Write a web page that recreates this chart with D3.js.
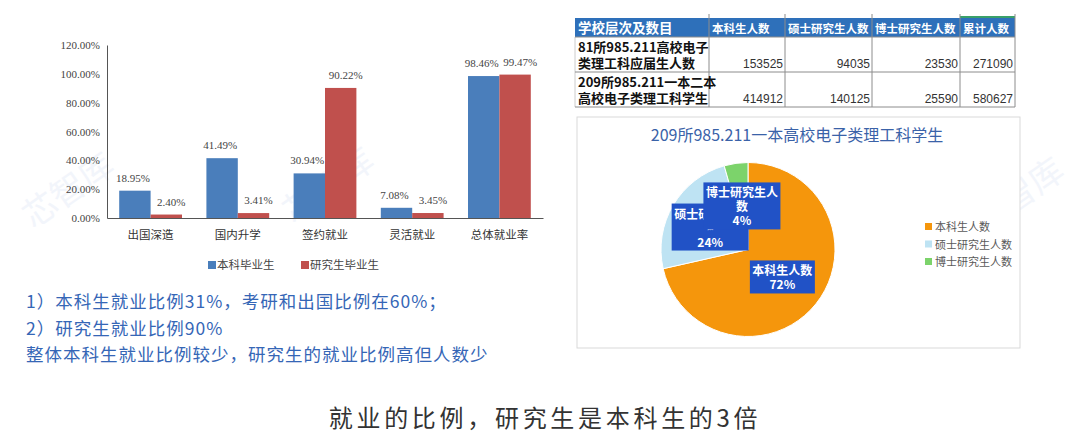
<!DOCTYPE html>
<html>
<head>
<meta charset="utf-8">
<script src="https://cdn.jsdelivr.net/npm/d3@7"></script>
<style>
  body { margin: 0; background: #fff; }
  svg { display: block; }
</style>
</head>
<body>
<svg id="chart"></svg>
<script>
const width = 1080, height = 446;

// bar chart data
const categories = ['出国深造', '国内升学', '签约就业', '灵活就业', '总体就业率'];
const seriesNames = ['本科毕业生', '研究生毕业生'];
const undergrad = [0.1895, 0.4149, 0.3094, 0.0708, 0.9846];
const graduate = [0.0240, 0.0341, 0.9022, 0.0345, 0.9947];
const yTicks = [0, 0.2, 0.4, 0.6, 0.8, 1.0, 1.2];

// table data
const tableHeaders = ['学校层次及数目', '本科生人数', '硕士研究生人数', '博士研究生人数', '累计人数'];
const tableRowLabels = [['81所985.211高校电子', '类理工科应届生人数'], ['209所985.211一本二本', '高校电子类理工科学生']];
const tableRow1 = [153525, 94035, 23530, 271090];
const tableRow2 = [414912, 140125, 25590, 580627];

// pie data (second table row)
const pieTitle = '209所985.211一本高校电子类理工科学生';
const pieNames = ['本科生人数', '硕士研究生人数', '博士研究生人数'];
const pieValues = tableRow2.slice(0, 3);
const pieLabels = ['72%', '24%', '4%'];

// text
const notes = ['1）本科生就业比例31%，考研和出国比例在60%；', '2）研究生就业比例90%', '整体本科生就业比例较少，研究生的就业比例高但人数少'];
const headline = '就业的比例，研究生是本科生的3倍';

const cjk = '"Noto Sans CJK SC", "Noto Sans", sans-serif';
const serif = '"Liberation Serif", "DejaVu Serif", serif';

const svg = d3.select('#chart')
  .attr('width', width)
  .attr('height', height);

svg.append('rect').attr('width', width).attr('height', height).attr('fill', '#fff');

// faint watermarks
const marks = [[75, 200], [335, 195], [705, 205], [1025, 205]];
svg.selectAll('text.wm')
  .data(marks)
  .enter()
  .append('text')
  .attr('class', 'wm')
  .attr('transform', d => `translate(${d[0]},${d[1]}) rotate(-35)`)
  .attr('text-anchor', 'middle')
  .attr('font-family', cjk)
  .attr('font-size', 34)
  .attr('fill', '#dbe4f5')
  .attr('opacity', 0.35)
  .text('芯智库');

// ---------- bar chart ----------
const bar = { left: 107, right: 543, top: 45, bottom: 218 };

const x0 = d3.scaleBand()
  .domain(categories)
  .range([bar.left, bar.right])
  .paddingInner(0.28)
  .paddingOuter(0.14);

const x1 = d3.scaleBand()
  .domain(seriesNames)
  .range([0, x0.bandwidth()]);

const y = d3.scaleLinear()
  .domain([0, 1.2])
  .range([bar.bottom, bar.top]);

const colors = d3.scaleOrdinal().domain(seriesNames).range(['#4A7EBB', '#C0504D']);

const yAxis = svg.append('g')
  .attr('transform', `translate(${bar.left},0)`)
  .call(d3.axisLeft(y).tickValues(yTicks).tickFormat(d3.format('.2%')).tickSize(0).tickPadding(7));
yAxis.select('.domain').attr('stroke', '#555');
yAxis.selectAll('text')
  .attr('font-family', serif)
  .attr('font-size', 11)
  .attr('fill', '#444');

const xAxis = svg.append('g')
  .attr('transform', `translate(0,${bar.bottom})`)
  .call(d3.axisBottom(x0).tickSize(0).tickPadding(13));
xAxis.select('.domain').attr('stroke', '#555');
xAxis.selectAll('text')
  .attr('font-family', cjk)
  .attr('font-size', 11.5)
  .attr('fill', '#333');

const rows = categories.map((c, i) => ({ category: c, values: [undergrad[i], graduate[i]] }));

const groups = svg.selectAll('g.group')
  .data(rows)
  .enter()
  .append('g')
  .attr('class', 'group')
  .attr('transform', d => `translate(${x0(d.category)},0)`);

groups.selectAll('rect')
  .data(d => d.values.map((v, j) => ({ name: seriesNames[j], value: v })))
  .enter()
  .append('rect')
  .attr('x', d => x1(d.name))
  .attr('y', d => y(d.value))
  .attr('width', x1.bandwidth())
  .attr('height', d => bar.bottom - y(d.value))
  .attr('fill', d => colors(d.name));

groups.selectAll('text.val')
  .data(d => d.values.map((v, j) => ({ name: seriesNames[j], value: v, j })))
  .enter()
  .append('text')
  .attr('class', 'val')
  .attr('x', d => x1(d.name) + x1.bandwidth() / 2 + (d.j === 0 ? -2 : 5))
  .attr('y', d => y(d.value) - 9)
  .attr('text-anchor', 'middle')
  .attr('font-family', serif)
  .attr('font-size', 11)
  .attr('fill', '#444')
  .text(d => d3.format('.2%')(d.value));

// bar legend
const barLegend = svg.append('g').attr('transform', 'translate(208,265)');
const legItems = barLegend.selectAll('g')
  .data(seriesNames)
  .enter()
  .append('g')
  .attr('transform', (d, i) => `translate(${i * 93},0)`);
legItems.append('rect')
  .attr('x', 0).attr('y', -4).attr('width', 8).attr('height', 8)
  .attr('fill', d => colors(d));
legItems.append('text')
  .attr('x', 9).attr('y', 4)
  .attr('font-family', cjk)
  .attr('font-size', 11.5)
  .attr('fill', '#444')
  .text(d => d);

// ---------- notes ----------
svg.selectAll('text.note')
  .data(notes)
  .enter()
  .append('text')
  .attr('class', 'note')
  .attr('x', 26)
  .attr('y', (d, i) => 308 + i * 26.5)
  .attr('font-family', cjk)
  .attr('font-size', 17.5)
  .attr('letter-spacing', 1)
  .attr('fill', '#3566B6')
  .text(d => d);

svg.append('text')
  .attr('x', 545)
  .attr('y', 427)
  .attr('text-anchor', 'middle')
  .attr('font-family', cjk)
  .attr('font-size', 24)
  .attr('letter-spacing', 3.7)
  .attr('fill', '#333')
  .text(headline);

// ---------- table ----------
const colEdges = [575, 709, 785, 872, 960, 1015];
const rowEdges = [18, 37, 72, 107];
const table = svg.append('g');

table.append('rect')
  .attr('x', colEdges[0]).attr('y', rowEdges[0])
  .attr('width', colEdges[5] - colEdges[0]).attr('height', rowEdges[1] - rowEdges[0])
  .attr('fill', '#2E70BA');
table.append('line')
  .attr('x1', colEdges[4]).attr('x2', colEdges[5]).attr('y1', rowEdges[0] - 1).attr('y2', rowEdges[0] - 1)
  .attr('stroke', '#3aa06a').attr('stroke-width', 2);

table.selectAll('line.v')
  .data(colEdges)
  .enter()
  .append('line')
  .attr('class', 'v')
  .attr('x1', d => d).attr('x2', d => d)
  .attr('y1', (d, i) => (i === 0 ? rowEdges[1] : rowEdges[0] - 4))
  .attr('y2', rowEdges[3])
  .attr('stroke', (d, i) => (i === 0 ? '#ccc' : '#8c8c8c'))
  .attr('stroke-width', 1);

table.selectAll('line.h')
  .data(rowEdges.slice(1))
  .enter()
  .append('line')
  .attr('class', 'h')
  .attr('x1', colEdges[0]).attr('x2', colEdges[5])
  .attr('y1', d => d).attr('y2', d => d)
  .attr('stroke', '#8c8c8c');

table.selectAll('text.hd')
  .data(tableHeaders)
  .enter()
  .append('text')
  .attr('class', 'hd')
  .attr('x', (d, i) => colEdges[i] + 3)
  .attr('y', 33)
  .attr('font-family', cjk)
  .attr('font-weight', 'bold')
  .attr('font-size', (d, i) => (i === 0 ? 13.5 : 11.5))
  .attr('fill', '#fff')
  .text(d => d);

tableRowLabels.forEach((lines, r) => {
  table.selectAll(`text.rl${r}`)
    .data(lines)
    .enter()
    .append('text')
    .attr('x', colEdges[0] + 3)
    .attr('y', (d, i) => rowEdges[r + 1] + 15 + i * 16)
    .attr('font-family', cjk)
    .attr('font-weight', 'bold')
    .attr('font-size', 13)
    .attr('fill', '#111')
    .text(d => d);
});

[tableRow1, tableRow2].forEach((vals, r) => {
  table.selectAll(`text.num${r}`)
    .data(vals)
    .enter()
    .append('text')
    .attr('x', (d, i) => colEdges[i + 2] - 2)
    .attr('y', rowEdges[r + 2] - 4)
    .attr('text-anchor', 'end')
    .attr('font-family', '"Liberation Sans", Arial, sans-serif')
    .attr('font-size', 12)
    .attr('fill', '#333')
    .text(d => d);
});

// ---------- pie ----------
svg.append('rect')
  .attr('x', 577).attr('y', 117).attr('width', 443).attr('height', 231)
  .attr('fill', '#fff').attr('stroke', '#d9d9d9');

svg.append('text')
  .attr('x', 797).attr('y', 141)
  .attr('text-anchor', 'middle')
  .attr('font-family', cjk)
  .attr('font-size', 16)
  .attr('fill', '#3A62A8')
  .text(pieTitle);

const pieColors = d3.scaleOrdinal().domain(pieNames).range(['#F5960C', '#BEE3F3', '#7CD36B']);
const pie = d3.pie().sort(null).value(d => d.value);
const arcs = pie(pieNames.map((n, i) => ({ name: n, value: pieValues[i], label: pieLabels[i] })));
const radius = 87;
const arc = d3.arc().innerRadius(0).outerRadius(radius);
const labelArc = d3.arc().innerRadius(44).outerRadius(44);

const pieG = svg.append('g').attr('transform', 'translate(748,249.5)');
pieG.selectAll('path')
  .data(arcs)
  .enter()
  .append('path')
  .attr('d', arc)
  .attr('fill', d => pieColors(d.data.name))
  .attr('stroke', '#fff')
  .attr('stroke-width', 1);

const lab = pieG.selectAll('g.lab')
  .data(arcs)
  .enter()
  .append('g')
  .attr('class', 'lab')
  .attr('transform', d => `translate(${labelArc.centroid(d)})`);

lab.each(function (d) {
  const n = d.data.name;
  const lines = n.length > 5 ? [n.slice(0, 6), n.slice(6), d.data.label] : [n, d.data.label];
  const w = (lines.length > 2 ? 6 : 5) * 12 + 5;
  const h = lines.length * 14 + 5;
  const g = d3.select(this);
  g.append('rect')
    .attr('x', -w / 2).attr('y', -h / 2)
    .attr('width', w).attr('height', h)
    .attr('fill', '#2152C6');
  g.selectAll('text')
    .data(lines)
    .enter()
    .append('text')
    .attr('x', 0)
    .attr('y', (t, i) => -h / 2 + 15 + i * 14 - (n === '硕士研究生人数' && i === 1 ? 4 : 0))
    .attr('text-anchor', 'middle')
    .attr('font-family', cjk)
    .attr('font-weight', 'bold')
    .attr('font-size', (t, i) => (n === '硕士研究生人数' && i === 1 ? 6 : 12))
    .attr('fill', '#fff')
    .text(t => t);
});

// pie legend
const pieLegend = svg.append('g').attr('transform', 'translate(925,227)');
const pItems = pieLegend.selectAll('g')
  .data(pieNames)
  .enter()
  .append('g')
  .attr('transform', (d, i) => `translate(0,${i * 17.5})`);
pItems.append('rect')
  .attr('x', 0).attr('y', -4).attr('width', 7).attr('height', 7)
  .attr('fill', d => pieColors(d));
pItems.append('text')
  .attr('x', 10).attr('y', 4)
  .attr('font-family', cjk)
  .attr('font-size', 11)
  .attr('fill', '#595959')
  .text(d => d);
</script>
</body>
</html>
